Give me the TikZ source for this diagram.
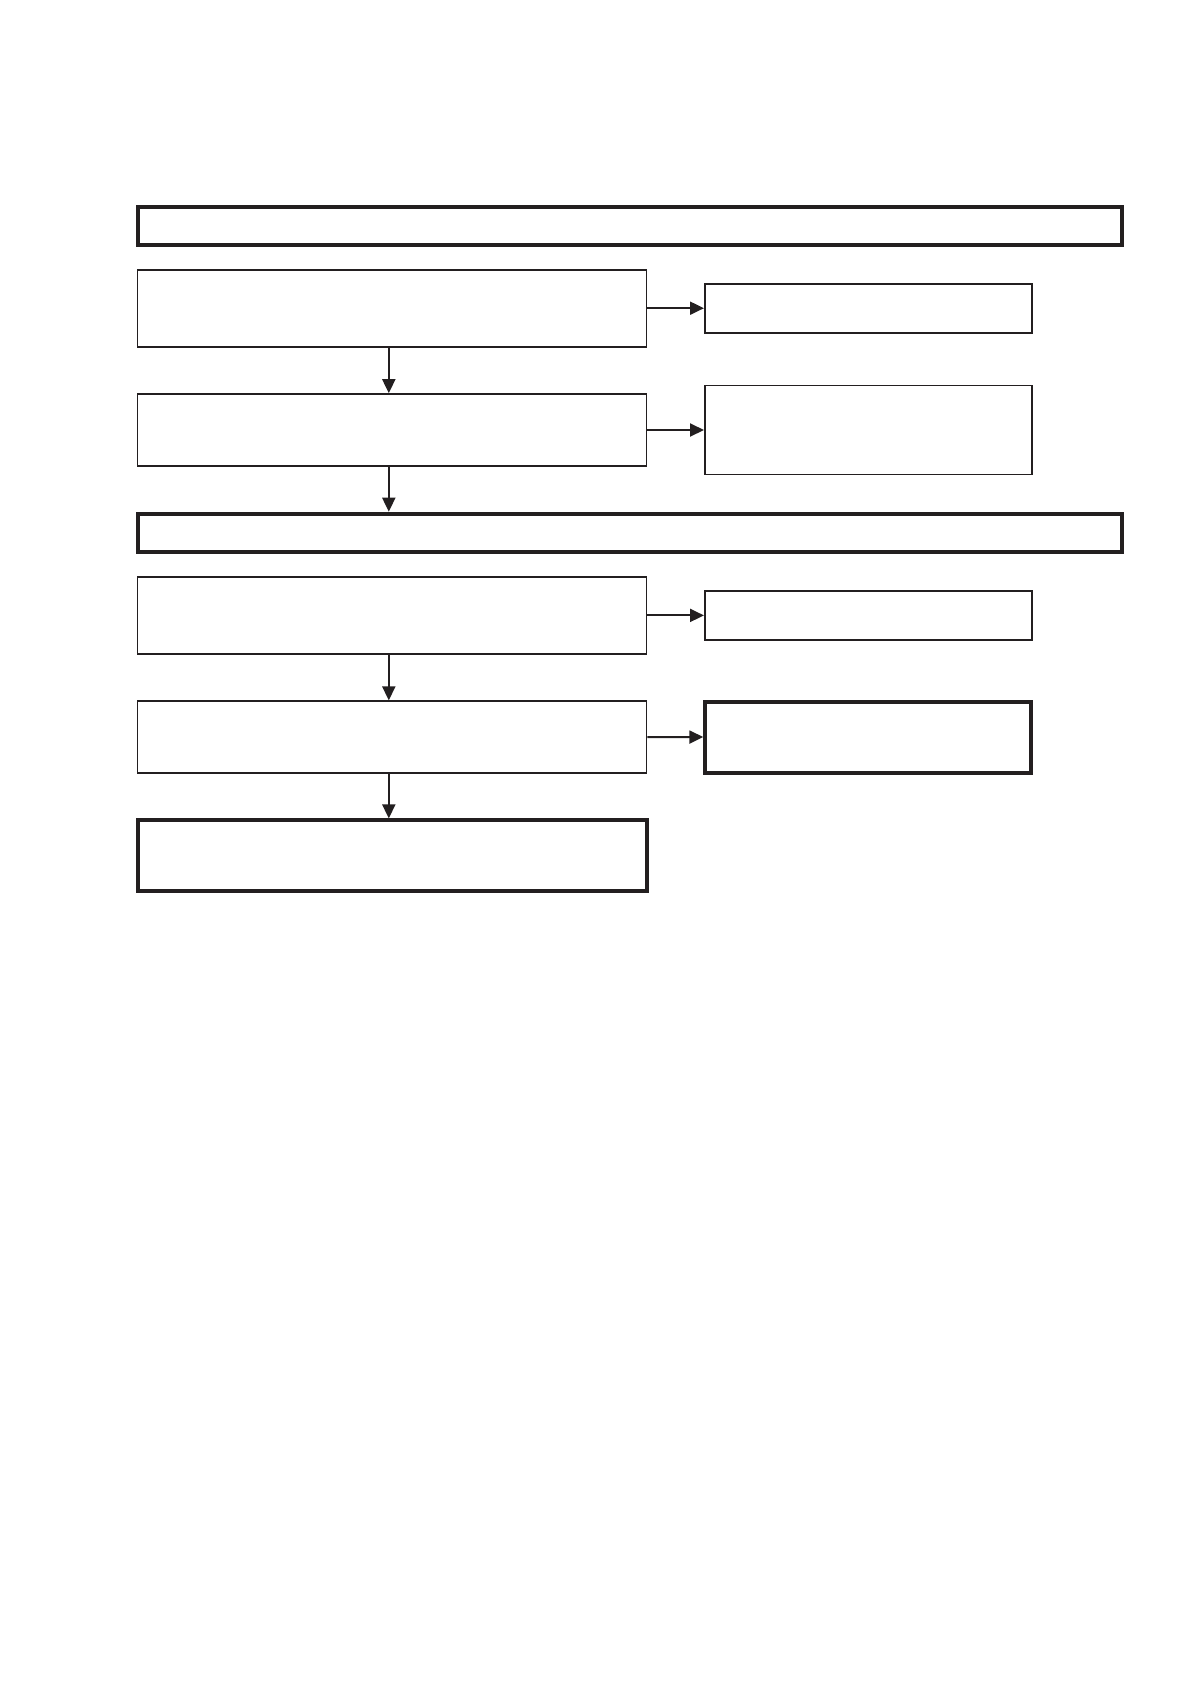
\documentclass[tikz,border=0pt]{standalone}
\usetikzlibrary{arrows.meta}
\definecolor{ink}{HTML}{231F20}
\begin{document}
\begin{tikzpicture}[x=1pt,y=-1pt,
  thinbox/.style={draw=ink,line width=1.6pt,rectangle,inner sep=0pt},
  thickbox/.style={draw=ink,line width=4pt,rectangle,inner sep=0pt},
  conn/.style={draw=ink,line width=2pt,-{Triangle[length=14pt,width=13pt]}}]
\useasboundingbox (0,0) rectangle (1191,1684);
% banners
\node[thickbox,minimum width=984pt,minimum height=38pt] (ban1) at (630,225.5) {};
\node[thickbox,minimum width=984pt,minimum height=38pt] (ban2) at (630,532.7) {};
% left column
\node[thinbox,minimum width=509pt,minimum height=77pt] (a) at (392,308.2) {};
\node[thinbox,minimum width=509pt,minimum height=72pt] (c) at (392,430) {};
\node[thinbox,minimum width=509pt,minimum height=77pt] (e) at (392,615.4) {};
\node[thinbox,minimum width=509pt,minimum height=72pt] (g) at (392,737.2) {};
\node[thickbox,minimum width=509pt,minimum height=71pt] (i) at (392,855.9) {};
% right column
\node[thinbox,minimum width=327pt,minimum height=49pt] (b) at (868.3,308.2) {};
\node[thinbox,minimum width=327pt,minimum height=89pt] (d) at (868.3,430) {};
\node[thinbox,minimum width=327pt,minimum height=49pt] (f) at (868.3,615.4) {};
\node[thickbox,minimum width=326pt,minimum height=71pt] (h) at (868.3,737) {};
% vertical connectors
\draw[conn] (a.south -| 388.8,0) -- (c.north -| 388.8,0);
\draw[conn] (c.south -| 388.8,0) -- (ban2.north -| 388.8,0);
\draw[conn] (e.south -| 388.8,0) -- (g.north -| 388.8,0);
\draw[conn] (g.south -| 388.8,0) -- (i.north -| 388.8,0);
% horizontal connectors
\draw[conn] (a.east) -- (b.west);
\draw[conn] (c.east) -- (d.west);
\draw[conn] (e.east) -- (f.west);
\draw[conn] (g.east) -- (h.west);
\end{tikzpicture}
\end{document}
